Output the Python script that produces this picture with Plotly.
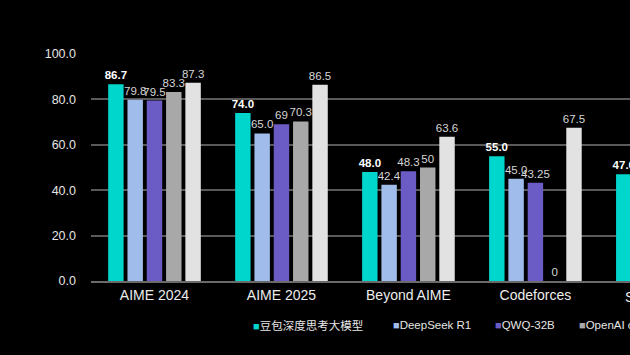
import plotly.graph_objects as go

categories = ["AIME 2024", "AIME 2025", "Beyond AIME", "Codeforces", "SWE-bench"]
series_names = ["豆包深度思考大模型", "DeepSeek R1", "QWQ-32B", "OpenAI o1", "OpenAI o3-mini-high"]
doubao = [86.7, 74.0, 48.0, 55.0, 47.0]
deepseek = [79.8, 65.0, 42.4, 45.0, None]
qwq = [79.5, 69, 48.3, 43.25, None]
o1 = [83.3, 70.3, 50, 0, None]
o3mini = [87.3, 86.5, 63.6, 67.5, None]
doubao_txt = ["86.7", "74.0", "48.0", "55.0", "47.0"]
deepseek_txt = ["79.8", "65.0", "42.4", "45.0", ""]
qwq_txt = ["79.5", "69", "48.3", "43.25", ""]
o1_txt = ["83.3", "70.3", "50", "0", ""]
o3mini_txt = ["87.3", "86.5", "63.6", "67.5", ""]
y_ticks = [0, 20, 40, 60, 80, 100]

colors = ["#00D6CC", "#9FBCEB", "#6B5BC4", "#A8A8A8", "#E2E2E2"]
values = [doubao, deepseek, qwq, o1, o3mini]
texts = [doubao_txt, deepseek_txt, qwq_txt, o1_txt, o3mini_txt]

x_range = [-0.5, 3.745]

fig = go.Figure()
for i, (name, vals, txt, col) in enumerate(zip(series_names, values, texts, colors)):
    fig.add_trace(go.Bar(
        name=name, x=categories, y=vals, text=txt,
        textposition="outside", cliponaxis=True, constraintext="none",
        textfont=dict(color="#FFFFFF" if i == 0 else "#D6D6D6", size=11.5,
                      family="Liberation Sans", weight="bold" if i == 0 else "normal"),
        marker=dict(color=col, line=dict(width=0)),
        showlegend=False,
    ))

# category label of the group that runs past the right edge (tick labels outside the range are not drawn)
last_idx = len(categories) - 1
fig.add_annotation(
    xref="paper", yref="paper",
    x=(last_idx - x_range[0]) / (x_range[1] - x_range[0]), y=0, yshift=-6,
    xanchor="center", yanchor="top", showarrow=False,
    text=categories[last_idx], font=dict(size=14, color="#EDEDED", family="Liberation Sans"),
)

# legend drawn as text entries below the plot (the reference legend runs off the right edge)
legend_x = [0.296, 0.557, 0.745, 0.901]
for name, col, lx in zip(series_names[:4], colors[:4], legend_x):
    fig.add_annotation(
        xref="paper", yref="paper", x=lx, y=-0.195, xanchor="left", yanchor="middle",
        showarrow=False,
        text=f'<span style="color:{col};font-size:11px">■</span>{name}',
        font=dict(size=11.5, color="#E6E6E6", family="Liberation Sans, Noto Sans CJK SC"),
    )

fig.update_layout(
    width=630, height=355,
    paper_bgcolor="#000000", plot_bgcolor="#000000",
    margin=dict(l=91, r=0, t=54, b=74, autoexpand=False),
    barmode="group", bargap=0.24, bargroupgap=0.2,
    font=dict(family="Liberation Sans, Noto Sans CJK SC", color="#E6E6E6"),
    showlegend=False,
)
fig.update_xaxes(range=x_range, showgrid=False, showline=True, automargin=False,
                 linecolor="#6A6A6A", linewidth=1.5,
                 tickfont=dict(size=14, color="#EDEDED"), ticks="")
fig.update_yaxes(range=[0, 100], tickvals=y_ticks, tickformat=".1f", automargin=False,
                 showgrid=True, gridcolor="#5A5A5A", gridwidth=1.5,
                 zeroline=False, showline=False,
                 tickfont=dict(size=12.5, color="#E6E6E6"), ticks="", ticklabelstandoff=14)

fig.write_html(
    "out.html",
    config={"displayModeBar": False},
    post_script="document.body.style.margin='0';document.body.style.background='#000';",
)
